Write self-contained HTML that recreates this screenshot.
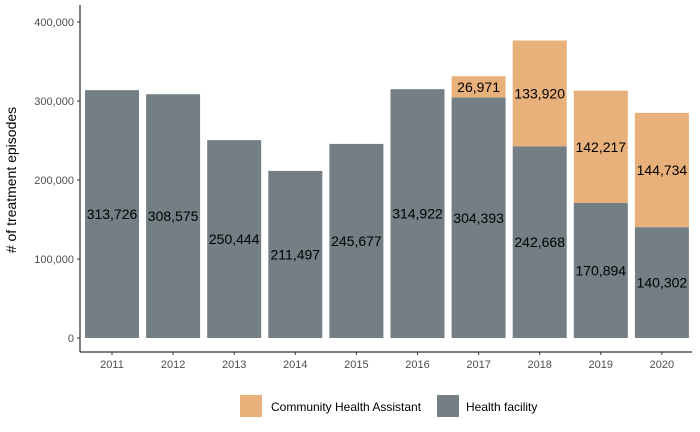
<!DOCTYPE html>
<html><head><meta charset="utf-8"><style>
body{margin:0;background:#fff;font-family:"Liberation Sans",Arial,sans-serif;}
svg{display:block}
</style></head><body>
<svg id="chart" width="700" height="432">
<g id="plot"></g>
<text transform="translate(16,180) rotate(-90)" text-anchor="middle" font-size="14" fill="#000"># of treatment episodes</text>
<g>
<rect x="240" y="395" width="22" height="22" fill="#E8B07A"/>
<text x="271" y="411" font-size="12" fill="#000">Community Health Assistant</text>
<rect x="437" y="395" width="22" height="22" fill="#737F84"/>
<text x="466" y="411" font-size="12" fill="#000">Health facility</text>
</g>
</svg>
<script>
const years=["2011","2012","2013","2014","2015","2016","2017","2018","2019","2020"];
const facility=[313726,308575,250444,211497,245677,314922,304393,242668,170894,140302];
const cha=[0,0,0,0,0,0,26971,133920,142217,144734];
const yTicks=[0,100000,200000,300000,400000];
const ns="http://www.w3.org/2000/svg";
const g=document.getElementById('plot');
const y0=338,yPer=316/400000,xL=80,xR=692,yTop=5,yBot=352;
const yS=v=>y0-v*yPer;
const step=61.1,x1=112,bw=54;
const xS=i=>x1+i*step;
const fmt=v=>v.toLocaleString('en-US');
function mk(t,a){const e=document.createElementNS(ns,t);for(const k in a)e.setAttribute(k,a[k]);g.appendChild(e);return e;}
let ax=mk('line',{x1:xL,y1:yTop,x2:xL,y2:yBot,stroke:'#000','stroke-width':1});


let bx=mk('line',{x1:xL,y1:yBot,x2:xR,y2:yBot,stroke:'#000','stroke-width':1});


yTicks.forEach(v=>{
 const y=yS(v);
 const tk=mk('line',{x1:xL-3,y1:y,x2:xL,y2:y,stroke:'#333'});
 
 
 const t=mk('text',{x:xL-6,y:y+4,'text-anchor':'end','font-size':11,fill:'#4d4d4d'});
 t.textContent=fmt(v);
 
 
});
years.forEach((yr,i)=>{
 const cx=xS(i);
 const f=facility[i],c=cha[i];
 const r=mk('rect',{x:cx-bw/2,y:yS(f),width:bw,height:y0-yS(f),fill:'#737F84'});
 
 
 const t=mk('text',{x:cx,y:yS(f/2)+5,'text-anchor':'middle','font-size':14,fill:'#000'});
 t.textContent=fmt(f);
 
 
 if(c>0){
  const r2=mk('rect',{x:cx-bw/2,y:yS(f+c),width:bw,height:yS(f)-yS(f+c),fill:'#E8B07A'});
  
  
  const t2=mk('text',{x:cx,y:yS(f+c/2)+5,'text-anchor':'middle','font-size':14,fill:'#000'});
  t2.textContent=fmt(c);
  
  
 }
 const tk=mk('line',{x1:cx,y1:yBot,x2:cx,y2:yBot+3,stroke:'#333'});
 
 
 const xl=mk('text',{x:cx,y:yBot+16,'text-anchor':'middle','font-size':11,fill:'#4d4d4d'});
 xl.textContent=yr;
 
 
});
</script>
</body></html>
